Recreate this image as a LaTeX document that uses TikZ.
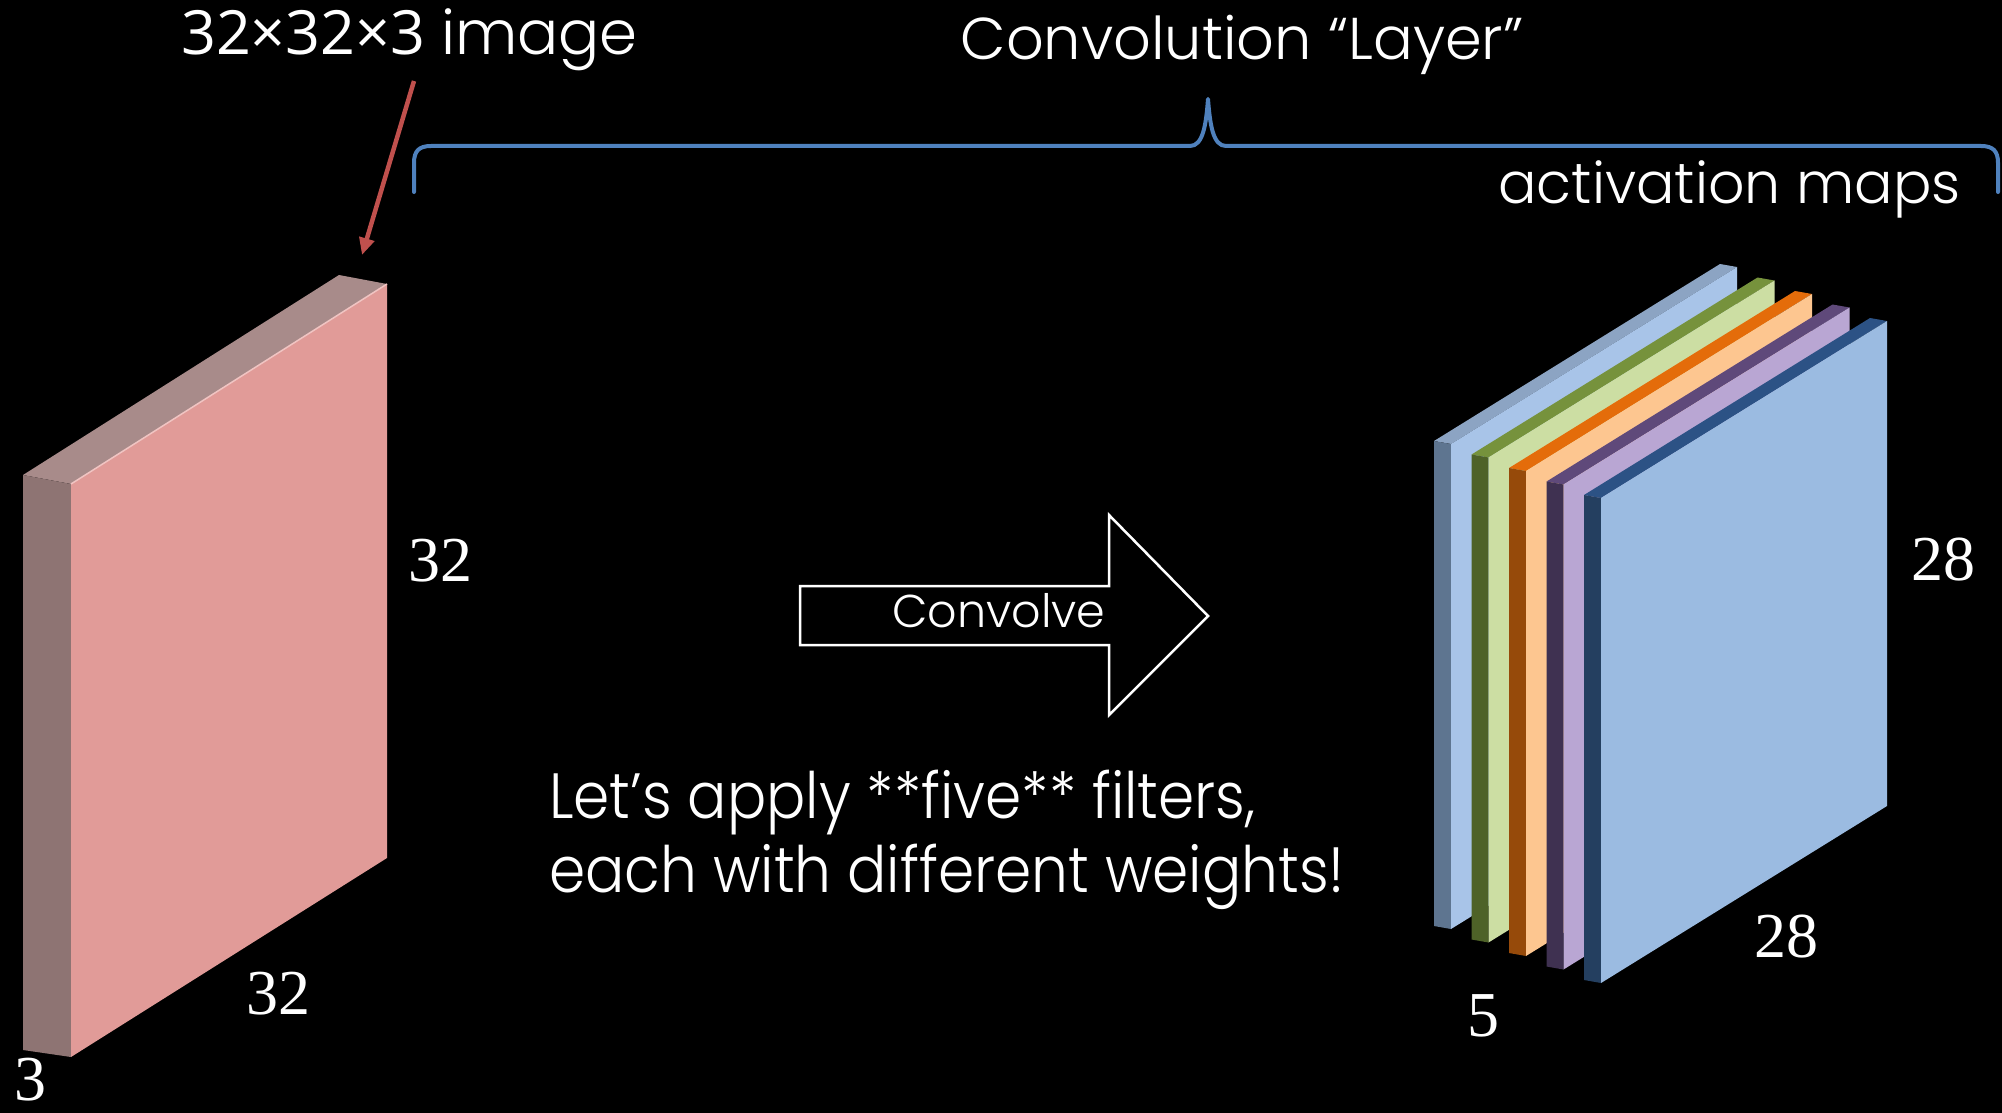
\documentclass[tikz,border=0pt]{standalone}
\usepackage{fontspec}
\usetikzlibrary{arrows.meta}
\newfontfamily\sansfont{Open Sans}
\newfontfamily\thinfont{Poppins}[UprightFont=* Light]
\newfontfamily\numfont{Liberation Serif}

\definecolor{pinkfront}{HTML}{E19B98}
\definecolor{pinkside}{HTML}{8E7473}
\definecolor{pinktop}{HTML}{A88B8A}
\definecolor{pinkedge}{HTML}{F0C4C2}
\definecolor{mapAf}{HTML}{A8C4E8}\definecolor{mapAs}{HTML}{5E7590}\definecolor{mapAt}{HTML}{8CA4C3}
\definecolor{mapBf}{HTML}{CCDEA3}\definecolor{mapBs}{HTML}{4E6228}\definecolor{mapBt}{HTML}{76923C}
\definecolor{mapCf}{HTML}{FDC690}\definecolor{mapCs}{HTML}{964A0A}\definecolor{mapCt}{HTML}{E46C0A}
\definecolor{mapDf}{HTML}{B9A6D3}\definecolor{mapDs}{HTML}{3F3151}\definecolor{mapDt}{HTML}{5F497A}
\definecolor{mapEf}{HTML}{9BBBE1}\definecolor{mapEs}{HTML}{243F60}\definecolor{mapEt}{HTML}{2C5285}
\definecolor{bracecol}{HTML}{4F81BD}
\definecolor{pointcol}{HTML}{C0504D}

% one activation map: front face, left side face, top face
\newcommand\mapslab[4]{%
  \begin{scope}[shift={#1}]
    \fill[#4] (0,0) -- (286,-177) -- (269,-180) -- (-17,-3) -- cycle;
    \fill[#3] (0,0) -- (0,485) -- (-17,482) -- (-17,-3) -- cycle;
    \fill[#2] (0,0) -- (286,-177) -- (286,308) -- (0,485) -- cycle;
  \end{scope}}

\begin{document}
\begin{tikzpicture}[x=1pt,y=-1pt,
  lbl/.style={text=white, inner sep=0pt, anchor=base},
  dimlbl/.style={lbl, font=\numfont\fontsize{64}{70}\selectfont},
  msg/.style={lbl, anchor=base west, font=\thinfont\fontsize{64}{70}\selectfont},
  brace/.style={draw=bracecol, line width=4pt, line cap=round, line join=round},
  pointer/.style={draw=pointcol, line width=4.5pt, -{Triangle[length=17pt,width=15pt]}},
  blockarrow/.style={draw=white, fill=black, line width=2.5pt, line join=miter}
]
\fill[black] (0,0) rectangle (2002,1113);
\useasboundingbox (0,0) rectangle (2002,1113);

% input volume
\fill[pinktop] (71,484) -- (387,284) -- (339,275) -- (23,475) -- cycle;
\fill[pinkside] (71,484) -- (71,1057) -- (23,1050) -- (23,475) -- cycle;
\fill[pinkfront] (71,484) -- (387,284) -- (387,858) -- (71,1057) -- cycle;
\draw[pinkedge, line width=1.5pt] (71,484) -- (387,284);

% stack of activation maps
\foreach \i/\fc/\sc/\tc in {0/mapAf/mapAs/mapAt, 1/mapBf/mapBs/mapBt,
    2/mapCf/mapCs/mapCt, 3/mapDf/mapDs/mapDt, 4/mapEf/mapEs/mapEt}
  {\mapslab{({1451+37.5*\i},{444+13.5*\i})}{\fc}{\sc}{\tc}}

% texts
\node[lbl, anchor=base west, font=\sansfont\fontsize{61}{65}\selectfont] (imglabel) at (181,55)
  {32×32×3 {\thinfont image}};
\node[lbl, font=\thinfont\fontsize{59}{66}\selectfont] (title) at (1242,60) {Convolution “Layer”};
\node[lbl, anchor=base east, font=\thinfont\fontsize{57}{60}\selectfont] (maps) at (1961,203) {activation maps};
\node[msg] (msgA) at (549,818) {\scalebox{0.91}[1]{Let’s apply **five** filters,}};
\node[msg] (msgB) at (549,892) {\scalebox{0.91}[1]{each with different weights!}};

% dimensions
\node[dimlbl] (inH) at (440,581) {32};
\node[dimlbl] (inW) at (278,1014) {32};
\node[dimlbl] (inD) at (30,1100) {3};
\node[dimlbl] (outH) at (1943,580) {28};
\node[dimlbl] (outW) at (1786,957) {28};
\node[dimlbl] (outD) at (1483,1036) {5};

% pointer to the input
\coordinate (imgtail) at (414,81);
\coordinate (imgtip) at (362,255);
\draw[pointer] (imgtail) -- (imgtip);

% brace over the layer
\draw[brace] (414,192) -- (414,163) .. controls (414,151) and (419,146) .. (431,146)
  -- (1190,146) .. controls (1203,146) and (1206,125) .. (1208,99)
  .. controls (1210,125) and (1213,146) .. (1226,146)
  -- (1981,146) .. controls (1993,146) and (1998,151) .. (1998,163) -- (1998,192);

% convolve arrow
\draw[blockarrow] (800,586) -- (1109,586) -- (1109,515) -- (1208,616)
  -- (1109,715) -- (1109,645) -- (800,645) -- cycle;
\node[lbl, font=\thinfont\fontsize{46}{50}\selectfont] (conv) at (999,627) {Convolve};
\end{tikzpicture}
\end{document}
